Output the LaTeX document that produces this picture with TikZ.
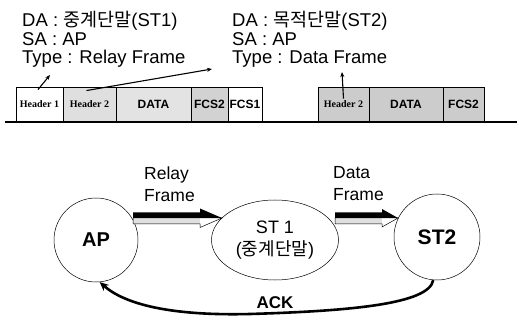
\documentclass[tikz,border=0pt]{standalone}
\usepackage{fontspec}
\setmainfont{Liberation Sans}
\newfontfamily\kr{Noto Sans CJK KR}
\newfontfamily\serifb{Liberation Serif}
\usetikzlibrary{shapes.geometric,arrows.meta,calc}
\newcommand{\blockarr}[4]{%
 \begin{scope}[shift={(#1)}]
 \fill[gray!25] (0,0) rectangle ({#2-#3},6);
 \fill[black] (0,-5.5) -- ({#2-#3},-5.5) -- ({#2-#3},-#4) -- (#2,0) -- (0,0) -- cycle;
 \draw[line width=0.5pt] (0,0) -- (#2,0) -- ({#2-#3},#4) -- ({#2-#3},6) -- (0,6) -- cycle;
 \end{scope}}
\begin{document}
\begin{tikzpicture}[x=1pt,y=-1pt,
 toptext/.style={anchor=base west,inner sep=0pt,font=\fontsize{18.5}{22}\selectfont},
 fbox/.style={draw,line width=0.9pt,minimum height=34pt,inner sep=0pt,font=\serifb\bfseries\fontsize{10}{10}\selectfont},
 fsans/.style={fbox,font=\bfseries\fontsize{12}{12}\selectfont},
 ptr/.style={line width=1.1pt,-{Stealth[length=5pt,width=4pt]}},
 station/.style={circle,draw,line width=0.5pt,inner sep=0pt},
 lbl/.style={anchor=north west,inner sep=0pt,align=left,font=\fontsize{17.5}{22}\selectfont},
 ack/.style={line width=2.6pt,-{Stealth[length=9pt,width=8pt]}}
]
\useasboundingbox (0,0) rectangle (519,320);
% top texts
\node[toptext] (da1) at (22,27) {DA : {\kr 중계단말}(ST1)};
\node[toptext] (sa1) at (22,45.5) {SA : AP};
\node[toptext] (ty1) at (22,64) {Type : Relay Frame};
\node[toptext] (da2) at (232,27) {DA : {\kr 목적단말}(ST2)};
\node[toptext] (sa2) at (232,45.5) {SA : AP};
\node[toptext] (ty2) at (232,64) {Type : Data Frame};
% relay frame
\node[fbox,fill=white,minimum width=47pt] (h1) at (39.5,104) {Header 1};
\node[fbox,fill=gray!25,minimum width=53pt] (h2) at (89.5,104) {Header 2};
\node[fsans,fill=gray!22,minimum width=75pt] (d1) at (153.5,104) {DATA};
\node[fsans,fill=gray!35,minimum width=37pt] (f2) at (209.5,104) {FCS2};
\node[fsans,fill=white,minimum width=34pt] (f1) at (245,104) {FCS1};
% data frame
\node[fbox,fill=gray!40,minimum width=51pt] (h2b) at (343.5,104) {Header 2};
\node[fsans,fill=gray!40,minimum width=74pt] (d2) at (406,104) {DATA};
\node[fsans,fill=gray!40,minimum width=41pt] (f2b) at (463.5,104) {FCS2};
% base line
\coordinate (b0) at (5,122);
\coordinate (b1) at (517,122);
\draw[line width=1.5pt] (b0) -- (b1);
% pointers
\coordinate (p1) at (50,75);
\draw[ptr] ([xshift=-1.5pt,yshift=-3pt]h1.north) -- (p1);
\coordinate (p2) at (212,69);
\draw[ptr] ([xshift=-3pt,yshift=-4pt]h2.north) -- (p2);
\coordinate (p3) at (342,72);
\draw[ptr] ([yshift=-12pt]h2b.north) -- (p3);
% stations
\node[station,minimum size=84pt,font=\bfseries\fontsize{20}{24}\selectfont] (ap) at (96,240) {AP};
\node[ellipse,draw,line width=0.5pt,minimum width=127pt,minimum height=80pt,inner sep=0pt,align=center,font=\fontsize{18}{22}\selectfont] (st1) at (275,240) {ST 1\\({\kr 중계단말})};
\node[station,minimum size=86pt,font=\bfseries\fontsize{21}{24}\selectfont] (st2) at (437,237) {ST2};
% block arrows
\coordinate (ra0) at (133,218);
\blockarr{ra0}{89}{22}{9.5}
\coordinate (da0) at (335,218);
\blockarr{da0}{63}{16}{9}
\node[lbl] (rl) at (144,166.5) {Relay\\Frame};
\node[lbl] (dl) at (333,166.5) {Data\\Frame};
% ACK
\coordinate (ackm) at (250,314);
\draw[ack] (st2.-95) .. controls +(-4,24) and +(100,-3) .. (ackm) .. controls +(-80,2) and +(25,22) .. (ap.-85);
\node[font=\bfseries\fontsize{17}{20}\selectfont] (ackl) at (275,303) {ACK};
\end{tikzpicture}
\end{document}
